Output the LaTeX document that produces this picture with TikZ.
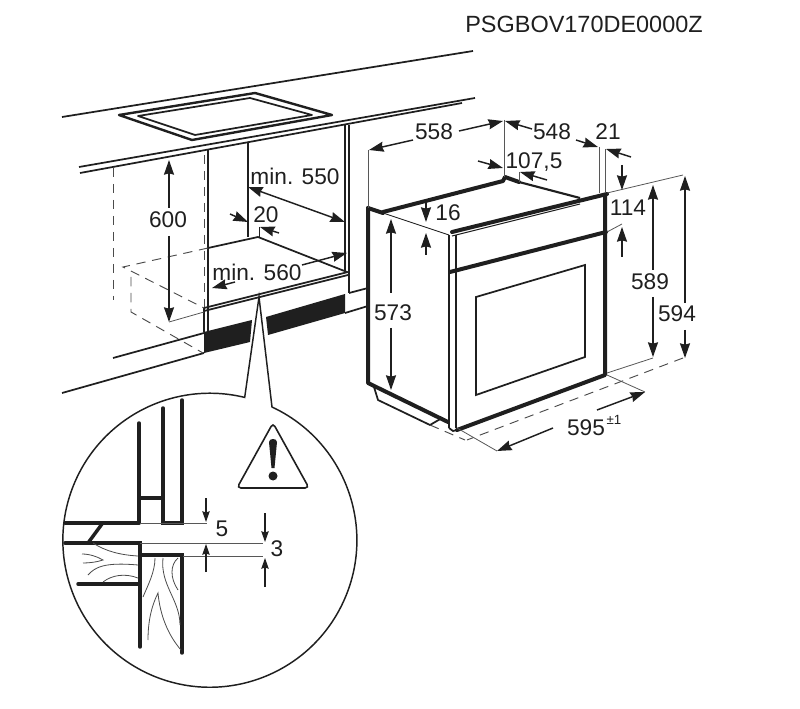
\documentclass[tikz,border=0pt]{standalone}
\usepackage{fontspec}
\setmainfont{Liberation Sans}
\usetikzlibrary{arrows.meta}
\definecolor{ink}{gray}{0.12}
\tikzset{
  thinl/.style={draw=ink,line width=0.6pt},
  med/.style={draw=ink,line width=1.3pt},
  heavy/.style={draw=ink,line width=2.6pt,line cap=round},
  ovenl/.style={draw=ink,line width=3pt,line cap=round,line join=round},
  ext/.style={draw=ink!75,line width=0.6pt},
  dashl/.style={draw=ink!80,line width=0.7pt,dash pattern=on 7pt off 5pt},
  dimar/.style={draw=ink,line width=1.1pt,-{Stealth[length=11pt,width=7.5pt,inset=1pt]}},
  dimboth/.style={draw=ink,line width=1.1pt,{Stealth[length=11pt,width=7.5pt,inset=1pt]}-{Stealth[length=11pt,width=7.5pt,inset=1pt]}},
  smallar/.style={draw=ink,line width=0.9pt,-{Stealth[length=8pt,width=5.5pt,inset=0.8pt]}},
  lab/.style={text=ink,inner sep=0pt,font=\fontsize{17}{19}\selectfont},
  wood/.style={draw=ink!80,line width=0.6pt},
}
\begin{document}
\begin{tikzpicture}[x=0.75pt,y=-0.75pt]
\useasboundingbox (0,0) rectangle (800,709);
\node[lab,font=\fontsize{17.6}{19}\selectfont] (code) at (584,24) {PSGBOV170DE0000Z};
% worktop
\draw[med] (62,117) -- (473,51);
\draw[med] (79,167) -- (475,98);
\draw[med] (80,173) -- (462,103);
\draw[med,line width=1.8pt,line join=round] (119,115) -- (255,93) -- (332,115) -- (192,140) -- cycle;
\draw[med,line join=round] (138,116) -- (250,98) -- (312,115) -- (195,135) -- cycle;
% cabinet
\draw[med] (208,150) -- (208,308);
\draw[med] (248,143) -- (248,237);
\draw[med] (345,125) -- (345,273);
\draw[med] (349,125) -- (349,293);
\draw[med] (208,248) -- (258,237) -- (347,272);
\draw[thinl] (259,227) -- (259,237);
\draw[med] (204,308) -- (348,272);
\draw[med] (204,311) -- (348,275);
\draw[med] (204,308) -- (204,332);
\draw[med] (208,308) -- (208,332);
% plinth
\fill[ink] (204,332) -- (252,320) -- (250,342) -- (204,353) -- cycle;
\fill[ink] (266,317) -- (345,294) -- (345,313) -- (268,335) -- cycle;
\draw[med] (113,358) -- (204,333);
\draw[med] (62,393) -- (204,353);
\draw[med] (349,293) -- (368,288);
\draw[med] (345,313) -- (368,306);
% dashed
\draw[dashl] (113,168) -- (113,300);
\draw[dashl] (204,155) -- (204,307);
\draw[dashl] (208,248) -- (123,267) -- (204,308);
\draw[dashl] (131,277) -- (131,312) -- (203,353);
% left dims
\node[lab] (t600) at (168,220) {600};
\node[lab] (t550) at (295,176) {min. 550};
\node[lab] (t20) at (266,215) {20};
\node[lab] (t560) at (257,272) {min. 560};
\draw[dimar] (169,208) -- (169,160);
\draw[dimar] (169,236) -- (169,322);
\draw[ext] (169,322) -- (204,312);
\draw[dimboth] (248,187) -- (345,222);
\draw[dimar] (230,214) -- (248,222);
\draw[dimar] (279,233) -- (260,227);
\draw[dimar] (235,282) -- (212,288);
\draw[dimar] (302,265) -- (347,253);
% callout
\draw[med,fill=white,line width=1.1pt,line join=miter] (272,407) arc[start angle=-65,end angle=283.7,radius=147] -- (259,297) -- cycle;
% warning
\draw[med,line width=1.2pt,rounded corners=3pt] (273,423) -- (309,488) -- (237,488) -- cycle;
\fill[ink] (269,442) .. controls (269,438) and (277,438) .. (277,442) -- (274.5,468) -- (271.5,468) -- cycle;
\fill[ink] (273,476) circle[radius=4.5];
% inset
\draw[heavy] (139,423) -- (139,523);
\draw[heavy] (163,408) -- (163,523) -- (182,523) -- (182,400);
\draw[heavy] (139,498) -- (163,498);
\draw[heavy] (65,523) -- (139,523);
\draw[heavy] (102,524) -- (88,543);
\draw[heavy] (65,543) -- (140,543) -- (140,647);
\draw[heavy] (142,555) -- (182,555) -- (182,653);
\draw[heavy] (78,584) -- (139,584);
\draw[ext] (140,523) -- (207,523);
\draw[ext] (140,543) -- (263,543);
\draw[ext] (183,556) -- (263,556);
\draw[smallar] (206,498) -- (206,522);
\draw[smallar] (206,572) -- (206,544);
\draw[smallar] (265,513) -- (265,542);
\draw[smallar] (265,587) -- (265,558);
\node[lab] (t5) at (222,529) {5};
\node[lab] (t3) at (277,549) {3};
% wood grain
\draw[wood] (93,543) .. controls (105,551) and (120,555) .. (138,556);
\draw[wood] (82,554) .. controls (90,554) and (98,557) .. (103,560) .. controls (97,562) and (90,563) .. (83,563);
\draw[wood] (88,575) .. controls (95,567) and (105,562) .. (138,565);
\draw[wood] (103,582) .. controls (112,575) and (125,573) .. (138,578);
\draw[wood] (155,558) .. controls (155,572) and (148,585) .. (143,597);
\draw[wood] (163,558) .. controls (160,585) and (180,600) .. (180,625);
\draw[wood] (148,640) .. controls (148,620) and (152,605) .. (158,593) .. controls (160,615) and (168,635) .. (181,650);
\draw[wood] (178,558) .. controls (170,565) and (170,578) .. (178,590);
% oven
\draw[ovenl] (368,208) -- (368,383) -- (448,422);
\draw[ovenl] (368,208) -- (383,213);
\draw[thinl] (383,213) -- (449,235);
\draw[ovenl] (383,212) -- (503,181) -- (505,177) -- (519,182);
\draw[med,line width=1.6pt] (519,182) -- (580,198);
\draw[ovenl] (452,232) -- (607,194);
\draw[med,line width=0.8pt] (452,236) -- (580,204);
\draw[ovenl] (605,195) -- (605,375) -- (457,430);
\draw[med] (449,235) -- (449,428);
\draw[med] (456,235) -- (456,428);
\draw[ovenl] (450,272) -- (606,232);
\draw[med] (449,428) -- (453,431) -- (457,430);
\draw[med] (476,297) -- (585,265) -- (585,357) -- (476,395) -- cycle;
\draw[med,line join=round] (374,387) -- (378,400) -- (430,425) -- (442,418);
% oven dims
\node[lab] (t558) at (434,132) {558};
\node[lab] (t548) at (552,132) {548};
\node[lab] (t21) at (608,132) {21};
\node[lab] (t1075) at (534,162) {107,5};
\node[lab] (t114) at (628,208) {114};
\node[lab] (t589) at (650,282) {589};
\node[lab] (t594) at (677,314) {594};
\node[lab] (t573) at (393,313) {573};
\node[lab] (t16) at (448,213) {16};
\node[lab] (t595) at (586,428) {595};
\node[text=ink,inner sep=0pt,font=\fontsize{10}{11}\selectfont] (tpm) at (614,420) {±1};
\draw[ext] (368,150) -- (368,208);
\draw[ext] (504,120) -- (504,177);
\draw[ext] (599,147) -- (599,193);
\draw[ext] (605,149) -- (605,193);
\draw[ext] (519,172) -- (519,182);
\draw[dimar] (413,140) -- (369,150);
\draw[dimar] (459,131) -- (503,121);
\draw[dimar] (532,129) -- (505,121);
\draw[dimar] (576,140) -- (598,147);
\draw[dimar] (631,157) -- (606,149);
\draw[dimar] (478,161) -- (503,168);
\draw[dimar] (547,180) -- (520,172);
\draw[ext] (607,193) -- (683,175);
\draw[ext] (607,232) -- (622,224);
\draw[ext] (607,373) -- (653,358);
\draw[dimar] (622,165) -- (622,190);
\draw[dimar] (622,257) -- (622,227);
\draw[dimar] (653,270) -- (653,185);
\draw[dimar] (653,297) -- (653,357);
\draw[dimar] (685,303) -- (685,176);
\draw[dimar] (685,330) -- (685,358);
\draw[dashl] (683,358) -- (467,440);
\draw[dashl] (430,425) -- (465,440);
\draw[ext] (607,375) -- (645,392);
\draw[ext] (457,428) -- (497,451);
\draw[dimar] (597,410) -- (645,392);
\draw[dimar] (553,428) -- (497,451);
\draw[dimar] (391,293) -- (391,219);
\draw[dimar] (391,328) -- (391,390);
\draw[dimar] (426,202) -- (426,222);
\draw[dimar] (426,255) -- (426,233);
\end{tikzpicture}
\end{document}
